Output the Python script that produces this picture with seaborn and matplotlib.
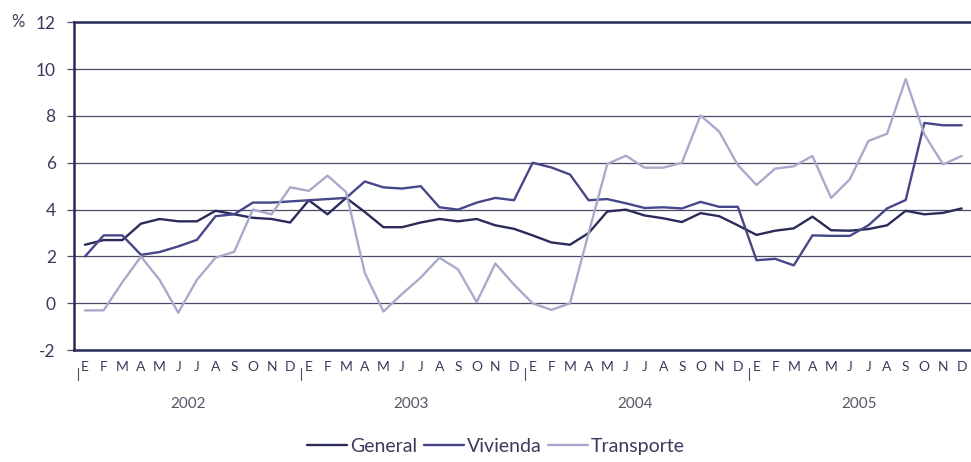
import numpy as np
import pandas as pd
import matplotlib
matplotlib.use("Agg")
import matplotlib.pyplot as plt
import matplotlib.transforms as mtransforms
import seaborn as sns

# Data: annual % change, Jan 2002 - Dec 2005
years = ["2002", "2003", "2004", "2005"]
month_letters = ["E", "F", "M", "A", "M", "J", "J", "A", "S", "O", "N", "D"]

general = [2.5, 2.7, 2.7, 3.4, 3.6, 3.5, 3.5, 3.95, 3.8, 3.65, 3.6, 3.45,
           4.4, 3.8, 4.5, 3.9, 3.25, 3.25, 3.45, 3.6, 3.5, 3.6, 3.33, 3.18,
           2.9, 2.6, 2.5, 3.0, 3.92, 4.0, 3.75, 3.63, 3.47, 3.85, 3.72, 3.33,
           2.92, 3.1, 3.2, 3.7, 3.12, 3.1, 3.17, 3.33, 3.95, 3.8, 3.86, 4.05]

vivienda = [2.0, 2.9, 2.9, 2.07, 2.19, 2.43, 2.71, 3.72, 3.8, 4.3, 4.3, 4.35,
            4.4, 4.45, 4.5, 5.2, 4.95, 4.9, 5.0, 4.1, 4.0, 4.3, 4.5, 4.4,
            6.0, 5.8, 5.5, 4.4, 4.45, 4.27, 4.07, 4.1, 4.05, 4.33, 4.12, 4.12,
            1.84, 1.9, 1.62, 2.9, 2.88, 2.88, 3.33, 4.05, 4.41, 7.7, 7.6, 7.6]

transporte = [-0.3, -0.3, 0.9, 2.0, 1.0, -0.4, 1.0, 1.95, 2.2, 4.0, 3.8, 4.95,
              4.8, 5.45, 4.75, 1.3, -0.35, 0.4, 1.1, 1.95, 1.45, 0.05, 1.7, 0.8,
              0.0, -0.28, 0.0, 3.0, 5.95, 6.3, 5.79, 5.79, 6.0, 8.02, 7.33, 5.9,
              5.05, 5.75, 5.85, 6.29, 4.5, 5.29, 6.93, 7.24, 9.57, 7.21, 5.93, 6.29]

series_names = ["General", "Vivienda", "Transporte"]
colors = ["#2a2b58", "#46478a", "#a9aacb"]
y_ticks = [-2, 0, 2, 4, 6, 8, 10, 12]

# long table for seaborn
n = len(general)
data = pd.DataFrame({"mes": np.arange(n), "General": general,
                     "Vivienda": vivienda, "Transporte": transporte})
long = data.melt(id_vars="mes", var_name="serie", value_name="valor")

sns.set_style("white")
plt.rcParams["font.family"] = ["Lato", "DejaVu Sans"]

text_color = "#3a3a5c"
grid_color = "#4a4a66"
spine_color = "#2a2a58"

fig = plt.figure(figsize=(9.71, 4.62), dpi=100)
ax = fig.add_axes([0.076, 0.242, 0.924, 0.710])

sns.lineplot(data=long, x="mes", y="valor", hue="serie", hue_order=series_names,
             palette=colors, linewidth=1.7, estimator=None, ax=ax)

# axes, grid and spines
ax.set_xlim(-0.6, 47.5)
ax.set_ylim(-2, 12)
ax.set_yticks(y_ticks)
ax.set_yticklabels([str(v) for v in y_ticks])
ax.grid(axis="y", color=grid_color, linewidth=0.9)
ax.grid(axis="x", visible=False)
for side in ["left", "bottom", "top"]:
    ax.spines[side].set_visible(True)
    ax.spines[side].set_color(spine_color)
    ax.spines[side].set_linewidth(1.8)
ax.spines["right"].set_visible(False)
ax.set_xlabel("")
ax.set_ylabel("")

ax.set_xticks(range(n))
ax.set_xticklabels(month_letters * len(years))
ax.tick_params(axis="x", length=0, pad=8, labelsize=10, labelcolor=text_color)
ax.tick_params(axis="y", left=True, length=5, width=0.9, color=grid_color,
               pad=8, labelsize=12.5, labelcolor=text_color)

fig.text(0.012, 0.952, "%", fontsize=12, color=text_color, va="center", ha="left")

# year separators and year labels under the month letters
trans = mtransforms.blended_transform_factory(ax.transData, ax.transAxes)
for k, year in enumerate(years):
    x0 = 12 * k - 0.4
    ax.plot([x0, x0], [-0.055, -0.092], transform=trans, clip_on=False,
            color=grid_color, linewidth=0.8)
    ax.text(12 * k + 5.5, -0.165, year, transform=trans, ha="center", va="center",
            fontsize=11, color="#555566")

# legend at the bottom
handles, labels = ax.get_legend_handles_labels()
ax.legend_.remove()
leg = fig.legend(handles, labels, loc="center", bbox_to_anchor=(0.511, 0.034), ncol=3,
                 frameon=False, fontsize=14, handlelength=2.05, handletextpad=0.15,
                 columnspacing=0.35)
for t in leg.get_texts():
    t.set_color(text_color)

fig.savefig("out.png", dpi=100)
